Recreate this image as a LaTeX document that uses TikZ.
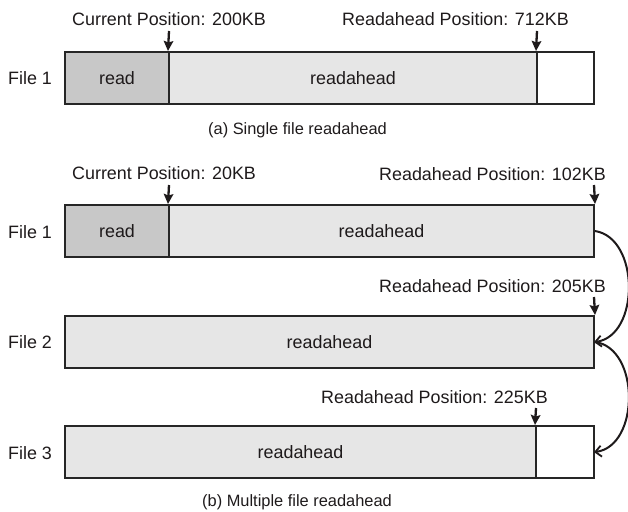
\documentclass[tikz,border=0pt]{standalone}
\usepackage{fontspec}
\setmainfont{Liberation Sans}
\usetikzlibrary{arrows.meta}
\definecolor{txt}{HTML}{1E1A1B}
\definecolor{edge}{HTML}{262626}
\definecolor{readfill}{HTML}{C8C8C8}
\definecolor{aheadfill}{HTML}{E6E6E6}
\begin{document}
\begin{tikzpicture}[x=1pt,y=-1pt,
  seg/.style={draw=edge,line width=2pt,inner sep=0pt,text=txt,font=\fontsize{17.9}{20}\selectfont},
  readseg/.style={seg,fill=readfill},
  aheadseg/.style={seg,fill=aheadfill},
  emptyseg/.style={seg,fill=white},
  lbl/.style={anchor=base west,inner sep=0pt,text=txt,font=\fontsize{17.9}{20}\selectfont},
  captxt/.style={anchor=base west,inner sep=0pt,text=txt,font=\fontsize{16.4}{18}\selectfont},
  posarrow/.style={draw=txt,line width=2.3pt,-{Stealth[length=10pt,width=9.5pt,inset=1.5pt]}},
  hop/.style={draw=txt,line width=2pt,-{Straight Barb[length=6pt,width=11pt,line width=1.8pt]},shorten >=-1pt}
]
\useasboundingbox (0,0) rectangle (628,511);

% ---- (a) single file ----
\node[readseg,minimum width=104pt,minimum height=52pt] (aread) at (117,78) {read};
\node[aheadseg,minimum width=368pt,minimum height=52pt] (aahead) at (353,78) {readahead};
\node[emptyseg,minimum width=57pt,minimum height=52pt] (awhite) at (565.5,78) {};
\node[lbl] (afile) at (8,84) {File 1};
\node[lbl] (acur) at (72,26) {Current Position: 200KB};
\node[lbl] (arap) at (342,26) {Readahead Position: 712KB};
\coordinate (acurs) at (169,31);
\coordinate (araps) at (537,31);
\draw[posarrow] (acurs) -- (aahead.north west);
\draw[posarrow] (araps) -- (awhite.north west);
\node[captxt] (capa) at (208,134) {(a) Single file readahead};

% ---- (b) multiple files ----
\node[readseg,minimum width=104pt,minimum height=52pt] (bread) at (117,231) {read};
\node[aheadseg,minimum width=425pt,minimum height=52pt] (bahead) at (381.5,231) {readahead};
\node[lbl] (bfile1) at (8,238) {File 1};
\node[lbl] (bcur) at (72,179) {Current Position: 20KB};
\node[lbl] (brap1) at (379,180) {Readahead Position: 102KB};
\coordinate (bcurs) at (169,185);
\coordinate (brap1s) at (594,185);
\draw[posarrow] (bcurs) -- (bahead.north west);
\draw[posarrow] (brap1s) -- (bahead.north east);

\node[aheadseg,minimum width=529pt,minimum height=52pt] (cahead) at (329.5,342) {readahead};
\node[lbl] (bfile2) at (8,348) {File 2};
\node[lbl] (brap2) at (379,292) {Readahead Position: 205KB};
\coordinate (brap2s) at (594,297);
\draw[posarrow] (brap2s) -- (cahead.north east);

\node[aheadseg,minimum width=471pt,minimum height=52pt] (dahead) at (300.5,452) {readahead};
\node[emptyseg,minimum width=58pt,minimum height=52pt] (dwhite) at (565,452) {};
\node[lbl] (bfile3) at (8,459) {File 3};
\node[lbl] (brap3) at (321,403) {Readahead Position: 225KB};
\coordinate (brap3s) at (536,408);
\draw[posarrow] (brap3s) -- (dwhite.north west);

\draw[hop] (bahead.east) .. controls (640,238) and (640,336) .. (cahead.east);
\draw[hop] (cahead.east) .. controls (640,348) and (640,446) .. (dwhite.east);

\node[captxt] (capb) at (202,506) {(b) Multiple file readahead};
\end{tikzpicture}
\end{document}
